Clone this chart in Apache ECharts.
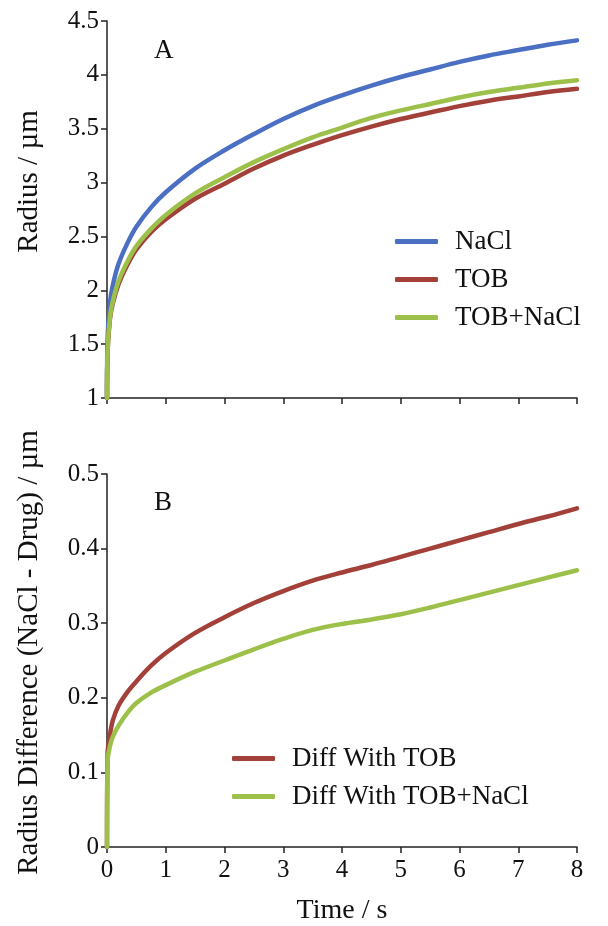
<!DOCTYPE html>
<html>
<head>
<meta charset="utf-8">
<script src="https://cdn.jsdelivr.net/npm/echarts@6/dist/echarts.min.js"></script>
<style>
  html, body { margin: 0; padding: 0; background: #fff; }
  #chart { width: 608px; height: 926px; }
</style>
</head>
<body>
<div id="chart"></div>
<script>
  // time points (s)
  var time = [0, 0.01, 0.05, 0.1, 0.2, 0.35, 0.5, 0.75, 1, 1.5, 2, 2.5, 3, 3.5, 4, 4.5, 5, 5.5, 6, 6.5, 7, 7.5, 8]

  // panel A: radius / um
  var nacl = [1, 1.55, 1.88, 2.05, 2.25, 2.44, 2.59, 2.77, 2.91, 3.13, 3.30, 3.45, 3.59, 3.71, 3.81, 3.90, 3.98, 4.05, 4.12, 4.18, 4.23, 4.28, 4.32]
  var tob = [1, 1.43, 1.73, 1.88, 2.06, 2.24, 2.38, 2.54, 2.66, 2.85, 2.99, 3.13, 3.25, 3.35, 3.44, 3.52, 3.59, 3.65, 3.71, 3.76, 3.80, 3.84, 3.87]
  var tobNacl = [1, 1.44, 1.75, 1.90, 2.09, 2.27, 2.41, 2.57, 2.70, 2.90, 3.05, 3.19, 3.31, 3.42, 3.51, 3.60, 3.67, 3.73, 3.79, 3.84, 3.88, 3.92, 3.95]

  // panel B: radius difference (NaCl - drug) / um
  var diffTob = [0, 0.125, 0.15, 0.17, 0.19, 0.208, 0.222, 0.243, 0.26, 0.287, 0.308, 0.327, 0.343, 0.357, 0.368, 0.378, 0.389, 0.400, 0.411, 0.422, 0.433, 0.443, 0.454]
  var diffTobNacl = [0, 0.115, 0.135, 0.148, 0.163, 0.18, 0.193, 0.207, 0.217, 0.235, 0.25, 0.265, 0.279, 0.291, 0.299, 0.305, 0.312, 0.321, 0.331, 0.341, 0.351, 0.361, 0.371]

  var xTicks = [0, 1, 2, 3, 4, 5, 6, 7, 8]

  var BLUE = '#4b6fc2', RED = '#a3403a', GREEN = '#9dc04a'
  var FONT = 'Liberation Serif'

  function pairs(ys) {
    return time.map(function (t, i) { return [t, ys[i]] })
  }

  var axisLine = { lineStyle: { color: '#222', width: 1.5 } }
  var axisTick = { inside: false, length: 6, lineStyle: { color: '#222', width: 1.5 } }
  var labelStyle = { fontFamily: FONT, fontSize: 25, color: '#111' }

  function xAxis(gridIndex, showLabels) {
    return {
      type: 'value', gridIndex: gridIndex, min: xTicks[0], max: xTicks[xTicks.length - 1], interval: 1,
      axisLine: axisLine, axisTick: axisTick, splitLine: { show: false },
      axisLabel: Object.assign({ show: showLabels, margin: 11 }, labelStyle),
      name: showLabels ? 'Time / s' : '', nameLocation: 'middle', nameGap: 50,
      nameTextStyle: { fontFamily: FONT, fontSize: 28, color: '#111' }
    }
  }

  function yAxis(gridIndex, min, max, step, name, shift) {
    return {
      type: 'value', gridIndex: gridIndex, min: min, max: max, interval: step,
      axisLine: Object.assign({ show: true }, axisLine), axisTick: Object.assign({ show: true }, axisTick),
      splitLine: { show: false }, axisLabel: Object.assign({ margin: 8 }, labelStyle),
      name: name, nameLocation: 'middle', nameGap: 63,
      nameTextStyle: { fontFamily: FONT, fontSize: 29, color: '#111', padding: [0, 0, 0, shift] }
    }
  }

  function line(name, ys, color, xi) {
    return {
      name: name, type: 'line', xAxisIndex: xi, yAxisIndex: xi,
      data: pairs(ys), showSymbol: false, smooth: 0.35,
      lineStyle: { color: color, width: 4.5, cap: 'round' }, itemStyle: { color: color }
    }
  }

  function legend(names, left, top) {
    return {
      data: names, orient: 'vertical', left: left, top: top,
      itemWidth: 43, itemHeight: 5, itemGap: 11, icon: 'roundRect',
      textStyle: { fontFamily: FONT, fontSize: 27, color: '#111', padding: [0, 0, 0, 12] }
    }
  }

  var chart = echarts.init(document.getElementById('chart'))
  chart.setOption({
    animation: false,
    backgroundColor: '#fff',
    grid: [
      { left: 107, top: 21, width: 470, height: 377 },
      { left: 107, top: 474, width: 470, height: 378 }
    ],
    xAxis: [xAxis(0, false), xAxis(1, true)],
    yAxis: [
      yAxis(0, 1, 4.5, 0.5, 'Radius / µm', 56),
      yAxis(1, 0, 0.5, 0.1, 'Radius Difference (NaCl - Drug) / µm', 16)
    ],
    legend: [
      legend(['NaCl', 'TOB', 'TOB+NaCl'], 390, 223),
      legend(['Diff With TOB', 'Diff With TOB+NaCl'], 227, 740)
    ],
    graphic: [
      { type: 'text', left: 154, top: 37, style: { text: 'A', font: '27px "Liberation Serif"', fill: '#111' } },
      { type: 'text', left: 154, top: 489, style: { text: 'B', font: '27px "Liberation Serif"', fill: '#111' } }
    ],
    series: [
      line('NaCl', nacl, BLUE, 0),
      line('TOB', tob, RED, 0),
      line('TOB+NaCl', tobNacl, GREEN, 0),
      line('Diff With TOB', diffTob, RED, 1),
      line('Diff With TOB+NaCl', diffTobNacl, GREEN, 1)
    ]
  })
</script>
</body>
</html>
